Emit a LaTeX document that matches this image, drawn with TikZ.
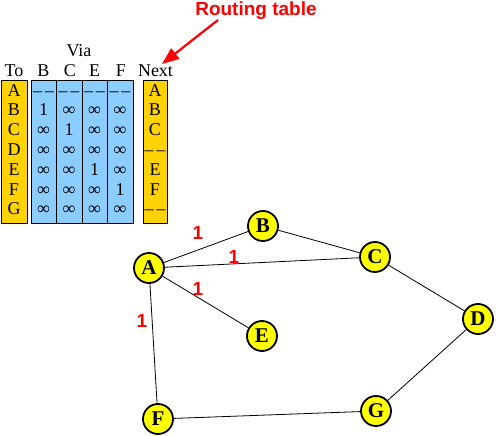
\documentclass[tikz,border=0pt]{standalone}
\usepackage{fontspec}
\setmainfont{Liberation Serif}
\setsansfont{Liberation Sans}
\usetikzlibrary{arrows.meta}
\definecolor{tgold}{RGB}{255,210,0}
\definecolor{tblue}{RGB}{140,205,255}
\definecolor{nyel}{RGB}{255,255,0}
\newcommand{\dd}{–\kern3pt–}
\begin{document}
\begin{tikzpicture}[x=1pt,y=-1pt,
 cell/.style={inner sep=0pt, anchor=base, font=\fontsize{18}{18}\selectfont},
 gnode/.style={circle, draw=black, line width=1.8pt, fill=nyel, minimum size=30pt, inner sep=0pt, font=\fontsize{21}{21}\selectfont\bfseries},
 wlabel/.style={text=red, font=\sffamily\bfseries\fontsize{19}{19}\selectfont, inner sep=0pt},
 edge/.style={line width=0.8pt},
 box/.style={draw=black, line width=0.8pt}]
\useasboundingbox (0,0) rectangle (496,436);
\fill[white] (0,0) rectangle (496,436);
% table boxes
\draw[box, fill=tgold] (1,80) rectangle (27,223);
\draw[box, fill=tblue] (31,80) rectangle (133,223);
\draw[box] (56,80) -- (56,223) (82,80) -- (82,223) (107,80) -- (107,223);
\draw[box, fill=tgold] (143,80) rectangle (167,223);
% headers
\node[cell] (via) at (79,57) {Via};
\node[cell] (hto) at (14,76.5) {To};
\node[cell] (hb) at (43.5,76.5) {B};
\node[cell] (hc) at (70,76.5) {C};
\node[cell] (he) at (94.5,76.5) {E};
\node[cell] (hf) at (121,76.5) {F};
\node[cell] (hnext) at (155.5,76.5) {Next};
% To column
\foreach \t [count=\i from 0] in {A,B,C,D,E,F,G}
  \node[cell] (to-\i) at (14,96+19.8*\i) {\t};
% Via columns
\foreach \t [count=\i from 0] in {\dd,1,∞,∞,∞,∞,∞}
  \node[cell] (vb-\i) at (43.5,96+19.8*\i) {\t};
\foreach \t [count=\i from 0] in {\dd,∞,1,∞,∞,∞,∞}
  \node[cell] (vc-\i) at (69,96+19.8*\i) {\t};
\foreach \t [count=\i from 0] in {\dd,∞,∞,∞,1,∞,∞}
  \node[cell] (ve-\i) at (94.5,96+19.8*\i) {\t};
\foreach \t [count=\i from 0] in {\dd,∞,∞,∞,∞,1,∞}
  \node[cell] (vf-\i) at (120,96+19.8*\i) {\t};
% Next column
\foreach \t [count=\i from 0] in {A,B,C,\dd,E,F,\dd}
  \node[cell] (nx-\i) at (155,96+19.8*\i) {\t};
% routing table label and arrow
\node[wlabel] (rt) at (256,10.5) {Routing table};
\coordinate (arrS) at (218,20);
\coordinate (arrE) at (162,64);
\draw[red, line width=2.2pt, -{Triangle[length=17pt,width=13pt]}] (arrS) -- (arrE);
% graph
\node[gnode] (A) at (149,268) {A};
\node[gnode] (B) at (263,226) {B};
\node[gnode] (C) at (375,257) {C};
\node[gnode] (D) at (478,319) {D};
\node[gnode] (E) at (262,336) {E};
\node[gnode] (F) at (158,419) {F};
\node[gnode] (G) at (376,411) {G};
\draw[edge] (A) -- (B);
\draw[edge] (A) -- (C);
\draw[edge] (A) -- (E);
\draw[edge] (A) -- (F);
\draw[edge] (B) -- (C);
\draw[edge] (C) -- (D);
\draw[edge] (D) -- (G);
\draw[edge] (F) -- (G);
\node[wlabel] (lab) at (198,233) {1};
\node[wlabel] (lac) at (234,257) {1};
\node[wlabel] (lae) at (198,289) {1};
\node[wlabel] (laf) at (142,321) {1};
\end{tikzpicture}
\end{document}
